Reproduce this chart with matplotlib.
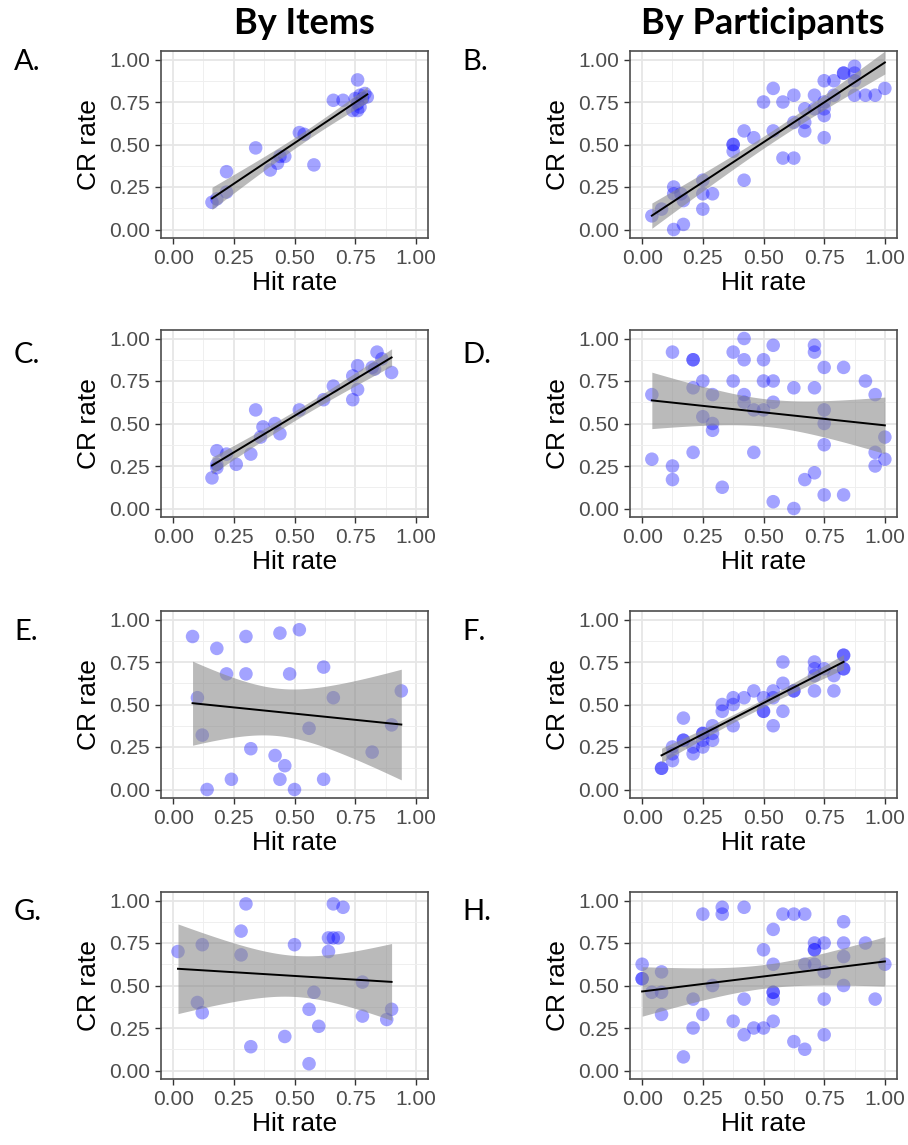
import numpy as np
import matplotlib.pyplot as plt

# hit rate / CR rate per panel
a_hit = [0.16, 0.18, 0.22, 0.22, 0.34, 0.40, 0.43, 0.44, 0.46, 0.52, 0.54, 0.58,
         0.66, 0.70, 0.74, 0.76, 0.76, 0.75, 0.77, 0.78, 0.80, 0.76, 0.79, 0.77]
a_cr = [0.16, 0.18, 0.22, 0.34, 0.48, 0.35, 0.39, 0.43, 0.43, 0.57, 0.56, 0.38,
        0.76, 0.76, 0.70, 0.88, 0.70, 0.77, 0.79, 0.77, 0.78, 0.74, 0.80, 0.72]

b_hit = [0.04, 0.08, 0.13, 0.13, 0.13, 0.17, 0.17, 0.16, 0.25, 0.25, 0.25, 0.29,
         0.375, 0.375, 0.375, 0.42, 0.42, 0.46, 0.50, 0.54, 0.54, 0.58, 0.58, 0.625,
         0.625, 0.625, 0.67, 0.67, 0.67, 0.71, 0.71, 0.75, 0.75, 0.75, 0.75, 0.75,
         0.79, 0.79, 0.83, 0.83, 0.875, 0.875, 0.875, 0.875, 0.92, 0.96, 1.00]
b_cr = [0.08, 0.12, 0.25, 0.21, 0.00, 0.03, 0.17, 0.21, 0.29, 0.21, 0.12, 0.21,
        0.50, 0.50, 0.46, 0.58, 0.29, 0.54, 0.75, 0.83, 0.58, 0.75, 0.42, 0.79,
        0.42, 0.63, 0.71, 0.63, 0.58, 0.79, 0.71, 0.875, 0.75, 0.71, 0.67, 0.54,
        0.875, 0.79, 0.92, 0.92, 0.96, 0.92, 0.875, 0.79, 0.79, 0.79, 0.83]

c_hit = [0.16, 0.18, 0.18, 0.18, 0.22, 0.26, 0.32, 0.34, 0.36, 0.37, 0.42, 0.44,
         0.52, 0.62, 0.66, 0.74, 0.74, 0.76, 0.76, 0.82, 0.84, 0.86, 0.90, 0.83]
c_cr = [0.18, 0.24, 0.26, 0.34, 0.32, 0.26, 0.32, 0.58, 0.42, 0.48, 0.50, 0.44,
        0.58, 0.64, 0.72, 0.64, 0.78, 0.84, 0.70, 0.83, 0.92, 0.88, 0.80, 0.82]

d_hit = [0.04, 0.04, 0.125, 0.125, 0.125, 0.21, 0.21, 0.21, 0.21, 0.25, 0.25,
         0.29, 0.29, 0.29, 0.33, 0.375, 0.375, 0.42, 0.42, 0.42, 0.42, 0.46, 0.46,
         0.50, 0.50, 0.50, 0.54, 0.54, 0.54, 0.54, 0.625, 0.625, 0.67, 0.71, 0.71,
         0.71, 0.71, 0.75, 0.75, 0.75, 0.75, 0.75, 0.83, 0.83, 0.92, 0.96, 0.96,
         0.96, 1.00, 1.00]
d_cr = [0.67, 0.29, 0.92, 0.25, 0.17, 0.875, 0.875, 0.71, 0.33, 0.75, 0.54,
        0.67, 0.50, 0.46, 0.125, 0.92, 0.75, 1.00, 0.875, 0.67, 0.625, 0.58, 0.33,
        0.875, 0.75, 0.58, 0.96, 0.75, 0.625, 0.04, 0.71, 0.00, 0.17, 0.96, 0.92,
        0.71, 0.21, 0.83, 0.58, 0.50, 0.375, 0.08, 0.83, 0.08, 0.75, 0.67, 0.33,
        0.25, 0.29, 0.42]

e_hit = [0.08, 0.10, 0.12, 0.14, 0.18, 0.22, 0.24, 0.30, 0.30, 0.32, 0.42, 0.44,
         0.44, 0.46, 0.48, 0.50, 0.52, 0.56, 0.62, 0.62, 0.66, 0.82, 0.90, 0.94]
e_cr = [0.90, 0.54, 0.32, 0.00, 0.83, 0.68, 0.06, 0.90, 0.68, 0.24, 0.20, 0.92,
        0.06, 0.14, 0.68, 0.00, 0.94, 0.36, 0.72, 0.06, 0.54, 0.22, 0.38, 0.58]

f_hit = [0.08, 0.08, 0.125, 0.125, 0.125, 0.17, 0.17, 0.17, 0.21, 0.21, 0.25,
         0.25, 0.25, 0.25, 0.29, 0.29, 0.29, 0.33, 0.33, 0.375, 0.375, 0.375, 0.42,
         0.46, 0.50, 0.50, 0.50, 0.54, 0.54, 0.54, 0.58, 0.58, 0.58, 0.625, 0.625,
         0.71, 0.71, 0.71, 0.71, 0.75, 0.79, 0.79, 0.83, 0.83, 0.83, 0.83]
f_cr = [0.125, 0.125, 0.17, 0.21, 0.25, 0.29, 0.29, 0.42, 0.21, 0.25, 0.33, 0.33,
        0.29, 0.25, 0.375, 0.33, 0.29, 0.50, 0.46, 0.54, 0.50, 0.375, 0.54,
        0.58, 0.54, 0.46, 0.46, 0.58, 0.54, 0.375, 0.75, 0.625, 0.46, 0.58, 0.58,
        0.75, 0.71, 0.67, 0.58, 0.71, 0.67, 0.58, 0.79, 0.79, 0.71, 0.71]

g_hit = [0.02, 0.10, 0.12, 0.12, 0.28, 0.28, 0.30, 0.32, 0.46, 0.50, 0.56, 0.56,
         0.58, 0.60, 0.64, 0.64, 0.66, 0.66, 0.68, 0.70, 0.78, 0.78, 0.88, 0.90]
g_cr = [0.70, 0.40, 0.74, 0.34, 0.82, 0.68, 0.98, 0.14, 0.20, 0.74, 0.36, 0.04,
        0.46, 0.26, 0.70, 0.78, 0.98, 0.78, 0.78, 0.96, 0.52, 0.32, 0.30, 0.36]

h_hit = [0.00, 0.00, 0.00, 0.04, 0.08, 0.08, 0.08, 0.17, 0.21, 0.21, 0.25, 0.25,
         0.29, 0.33, 0.33, 0.375, 0.42, 0.42, 0.42, 0.46, 0.50, 0.50, 0.54, 0.54,
         0.54, 0.54, 0.54, 0.54, 0.58, 0.625, 0.625, 0.67, 0.67, 0.67, 0.71, 0.71,
         0.71, 0.71, 0.75, 0.75, 0.75, 0.75, 0.83, 0.83, 0.83, 0.83, 0.92, 0.96,
         1.00]
h_cr = [0.625, 0.54, 0.54, 0.46, 0.58, 0.46, 0.33, 0.08, 0.42, 0.25, 0.92, 0.33,
        0.50, 0.96, 0.92, 0.29, 0.96, 0.42, 0.21, 0.25, 0.25, 0.71, 0.83, 0.625,
        0.46, 0.46, 0.42, 0.29, 0.92, 0.92, 0.17, 0.92, 0.625, 0.125, 0.75, 0.71,
        0.71, 0.625, 0.75, 0.58, 0.42, 0.21, 0.875, 0.75, 0.67, 0.50, 0.75, 0.42,
        0.625]

panels = [("A.", a_hit, a_cr), ("B.", b_hit, b_cr),
          ("C.", c_hit, c_cr), ("D.", d_hit, d_cr),
          ("E.", e_hit, e_cr), ("F.", f_hit, f_cr),
          ("G.", g_hit, g_cr), ("H.", h_hit, h_cr)]

W, H = 908, 1145
fig = plt.figure(figsize=(W / 100, H / 100), dpi=100)

col_left = [161, 630]
row_top = [51, 330, 611, 892]
letter_y = [62, 355, 632, 912]
ax_w, ax_h = 267, 187

ticks = [0, 0.25, 0.5, 0.75, 1.0]
tick_labels = ["0.00", "0.25", "0.50", "0.75", "1.00"]
minor = [0.125, 0.375, 0.625, 0.875]


def t975(df):
    # rough 97.5% t quantile, good enough for the band
    z = 1.959964
    return z + (z**3 + z) / (4 * df) + (5 * z**5 + 16 * z**3 + 3 * z) / (96 * df**2)


def draw(ax, hit, cr):
    x = np.array(hit)
    y = np.array(cr)
    ax.scatter(x, y, s=95, color="blue", alpha=0.36, edgecolors="none", zorder=2)

    # linear fit with 95% confidence band
    n = len(x)
    slope, icpt = np.polyfit(x, y, 1)
    resid = y - (slope * x + icpt)
    s = np.sqrt(np.sum(resid**2) / (n - 2))
    sxx = np.sum((x - x.mean())**2)
    xs = np.linspace(x.min(), x.max(), 100)
    ys = slope * xs + icpt
    se = s * np.sqrt(1 / n + (xs - x.mean())**2 / sxx)
    t = t975(n - 2)
    ax.fill_between(xs, ys - t * se, ys + t * se, color="#8c8c8c", alpha=0.6,
                    linewidth=0, zorder=3)
    ax.plot(xs, ys, color="black", lw=1.4, zorder=4)

    ax.set_xlim(-0.05, 1.05)
    ax.set_ylim(-0.05, 1.05)
    ax.set_xticks(ticks)
    ax.set_xticklabels(tick_labels)
    ax.set_yticks(ticks)
    ax.set_yticklabels(tick_labels)
    ax.set_xticks(minor, minor=True)
    ax.set_yticks(minor, minor=True)
    ax.grid(which="major", color="#e6e6e6", lw=1.3)
    ax.grid(which="minor", color="#efefef", lw=0.7)
    ax.set_axisbelow(True)
    ax.tick_params(which="major", length=4, width=1, color="#333333",
                   labelsize=15, labelcolor="#4d4d4d", pad=4)
    ax.tick_params(which="minor", length=0)
    for sp in ax.spines.values():
        sp.set_color("#4d4d4d")
        sp.set_linewidth(1.2)
    ax.set_xlabel("Hit rate", fontsize=19, labelpad=2)
    ax.set_ylabel("CR rate", fontsize=19, labelpad=6)


plt.rcParams["font.family"] = ["Liberation Sans", "DejaVu Sans"]

for i, (letter, hit, cr) in enumerate(panels):
    r, c = divmod(i, 2)
    left = col_left[c] / W
    bottom = 1 - (row_top[r] + ax_h) / H
    ax = fig.add_axes([left, bottom, ax_w / W, ax_h / H])
    draw(ax, hit, cr)
    lx = [14, 462][c] / W
    ly = 1 - letter_y[r] / H
    fig.text(lx, ly, letter, fontsize=21, family=["Lato", "DejaVu Sans"],
             ha="left", va="center")

fig.text(304 / W, 1 - 24 / H, "By Items", fontsize=26, fontweight="bold",
         family=["Lato", "DejaVu Sans"], ha="center", va="center")
fig.text(763 / W, 1 - 24 / H, "By Participants", fontsize=26, fontweight="bold",
         family=["Lato", "DejaVu Sans"], ha="center", va="center")

fig.savefig("out.png", dpi=100)
